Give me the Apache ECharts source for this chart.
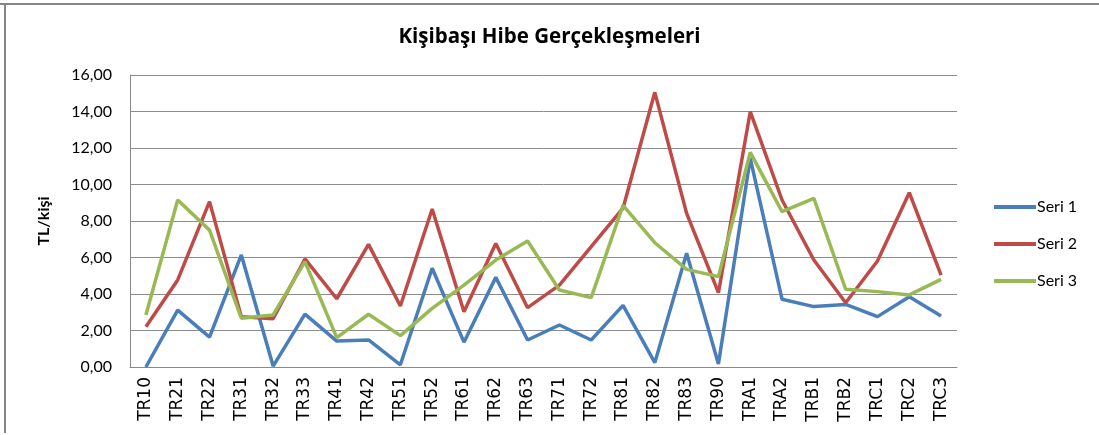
<!DOCTYPE html>
<html>
<head>
<meta charset="utf-8">
<script src="https://cdn.jsdelivr.net/npm/echarts@6/dist/echarts.min.js"></script>
<style>
  html, body { margin: 0; padding: 0; background: #fff; }
  #chart { width: 1099px; height: 435px; }
</style>
</head>
<body>
<div id="chart"></div>
<script>
// Regions (NUTS-2) on the category axis
const regions = ['TR10','TR21','TR22','TR31','TR32','TR33','TR41','TR42','TR51','TR52','TR61','TR62','TR63',
  'TR71','TR72','TR81','TR82','TR83','TR90','TRA1','TRA2','TRB1','TRB2','TRC1','TRC2','TRC3'];

// Per-capita grant values (TL/kişi)
const seri1 = [0.00, 3.12, 1.64, 6.14, 0.05, 2.90, 1.42, 1.48, 0.12, 5.41, 1.36, 4.91, 1.48,
  2.30, 1.48, 3.38, 0.24, 6.23, 0.16, 11.43, 3.71, 3.31, 3.43, 2.76, 3.85, 2.79];
const seri2 = [2.21, 4.77, 9.06, 2.76, 2.65, 5.92, 3.74, 6.72, 3.34, 8.66, 3.03, 6.77, 3.25,
  4.49, 6.59, 8.70, 15.05, 8.42, 4.07, 13.99, 9.15, 5.86, 3.52, 5.81, 9.55, 5.04];
const seri3 = [2.85, 9.15, 7.50, 2.67, 2.85, 5.77, 1.61, 2.89, 1.72, 3.21, 4.49, 5.86, 6.90,
  4.22, 3.80, 8.86, 6.81, 5.35, 4.95, 11.76, 8.51, 9.24, 4.26, 4.13, 3.95, 4.80];

const seriesNames = ['Seri 1', 'Seri 2', 'Seri 3'];
const colors = ['#4A7EBB', '#BE4B48', '#98B954'];

const uiFont = 'Lato, "Open Sans", sans-serif';

const chart = echarts.init(document.getElementById('chart'), null, { renderer: 'canvas' });

const mkLine = (name, data, color) => ({
  name, type: 'line', data,
  symbol: 'none',
  lineStyle: { width: 3.5, color },
  itemStyle: { color },
  animation: false
});

chart.setOption({
  animation: false,
  title: {
    text: 'Kişibaşı Hibe Gerçekleşmeleri',
    left: 'center',
    top: 22,
    textStyle: { fontFamily: '"Open Sans", sans-serif', fontSize: 20.5, fontWeight: 'bold', color: '#000' }
  },
  legend: {
    orient: 'vertical',
    left: 989,
    top: 194,
    itemWidth: 42,
    itemHeight: 4,
    itemGap: 21,
    icon: 'rect',
    data: seriesNames,
    textStyle: { fontFamily: uiFont, fontSize: 16, color: '#000', padding: [0, 0, 0, -4] }
  },
  grid: { left: 130, right: 142, top: 75, bottom: 68, containLabel: false },
  xAxis: {
    type: 'category',
    data: regions,
    boundaryGap: true,
    axisLine: { lineStyle: { color: '#888', width: 1 } },
    axisTick: { show: false },
    axisLabel: {
      rotate: 90,
      interval: 0,
      margin: 10,
      fontFamily: '"DejaVu Sans", sans-serif',
      fontSize: 17,
      color: '#000'
    }
  },
  yAxis: {
    type: 'value',
    min: 0, max: 16, interval: 2,
    name: 'TL/kişi',
    nameLocation: 'middle',
    nameGap: 78,
    nameRotate: 90,
    nameTextStyle: { fontFamily: uiFont, fontSize: 16, fontWeight: 'bold', color: '#000' },
    axisLine: { show: true, lineStyle: { color: '#888', width: 1 } },
    axisTick: { show: false },
    splitLine: { lineStyle: { color: '#8c8c8c', width: 1 } },
    axisLabel: {
      margin: 18,
      fontFamily: uiFont,
      fontSize: 16,
      color: '#000',
      formatter: v => v.toFixed(2).replace('.', ',')
    }
  },
  series: [
    mkLine(seriesNames[0], seri1, colors[0]),
    mkLine(seriesNames[1], seri2, colors[1]),
    mkLine(seriesNames[2], seri3, colors[2])
  ],
  graphic: [
    { type: 'line', shape: { x1: 0, y1: 4, x2: 1099, y2: 4 }, style: { stroke: '#868686', lineWidth: 2 }, silent: true },
    { type: 'line', shape: { x1: 5, y1: 4, x2: 5, y2: 433 }, style: { stroke: '#868686', lineWidth: 2 }, silent: true }
  ]
});
</script>
</body>
</html>
